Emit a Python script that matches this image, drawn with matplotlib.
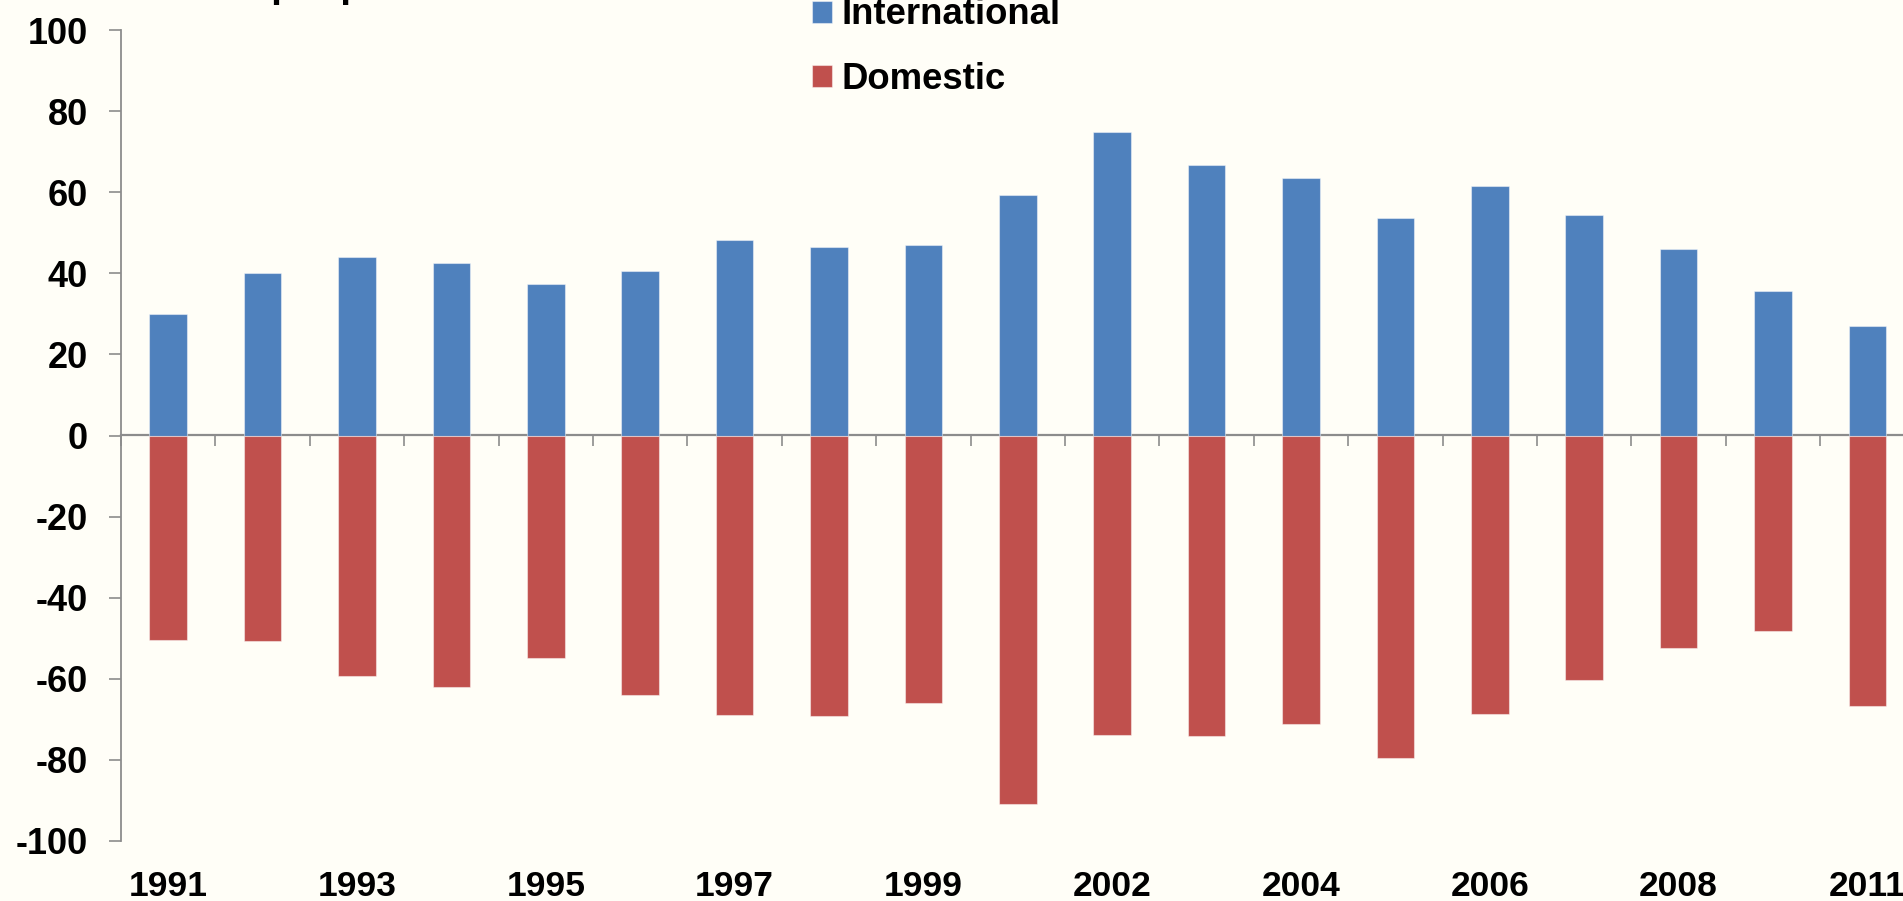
import matplotlib
matplotlib.use("Agg")
import matplotlib.pyplot as plt
import numpy as np

years = ["1991", "1992", "1993", "1994", "1995", "1996", "1997", "1998", "1999",
         "2001", "2002", "2003", "2004", "2005", "2006", "2007", "2008", "2010", "2011"]
international = [30.0, 40.0, 44.0, 42.5, 37.3, 40.6, 48.2, 46.5, 47.1,
                 59.4, 74.8, 66.8, 63.6, 53.7, 61.5, 54.5, 45.9, 35.7, 27.0]
domestic = [-50.5, -50.8, -59.2, -62.1, -54.8, -64.0, -69.0, -69.1, -66.0,
            -90.9, -73.9, -74.1, -71.1, -79.6, -68.8, -60.4, -52.3, -48.3, -66.7]
label_years = years[::2]
yticks = [-100, -80, -60, -40, -20, 0, 20, 40, 60, 80, 100]

BG = "#FFFEF7"
BLUE = "#4F81BD"
RED = "#C0504D"
GRAY = "#8C8C8C"
W, H = 1903, 901

plt.rcParams["font.family"] = ["Liberation Sans", "DejaVu Sans"]
plt.rcParams["font.weight"] = "bold"

fig = plt.figure(figsize=(W / 100, H / 100), dpi=100, facecolor=BG)
n = len(years)
cat_w = 94.4
left_px, top_px, bot_px = 121, 30, 841
ax = fig.add_axes([left_px / W, (H - bot_px) / H, n * cat_w / W, (bot_px - top_px) / H])
ax.set_facecolor(BG)

x = np.arange(n)
b1 = ax.bar(x, international, width=0.4, color=BLUE, edgecolor=(1, 1, 1, 0.45),
            linewidth=0.8, label="International", zorder=2)
b2 = ax.bar(x, domestic, width=0.4, color=RED, edgecolor=(1, 1, 1, 0.45),
            linewidth=0.8, label="Domestic", zorder=2)

ax.set_xlim(-0.5, n - 0.5)
ax.set_ylim(-100, 100)

for s in ["top", "right", "bottom"]:
    ax.spines[s].set_visible(False)
ax.spines["left"].set_color(GRAY)
ax.spines["left"].set_linewidth(1.3)

ax.set_yticks(yticks)
ax.set_yticklabels([str(v) for v in yticks])
ax.tick_params(axis="y", direction="out", length=8.6, width=1.2, color=GRAY,
               pad=15, labelsize=26)

ax.set_xticks(x[::2])
ax.set_xticklabels(label_years)
ax.tick_params(axis="x", length=0, pad=21, labelsize=25.5)

secax = ax.secondary_xaxis(0.5)
secax.set_xticks(np.arange(n + 1) - 0.5)
secax.set_xticklabels([])
secax.xaxis.set_ticks_position("bottom")
secax.tick_params(axis="x", direction="out", length=8, width=1.2, color=GRAY)
secax.spines["bottom"].set_visible(True)
secax.spines["bottom"].set_color(GRAY)
secax.spines["bottom"].set_linewidth(1.6)
secax.spines["top"].set_visible(False)

# title, cropped by the top edge in the reference
fig.text(137 / W, (H + 3) / H, "Million people", fontsize=28, fontweight="bold",
         ha="left", va="baseline")

leg = ax.legend(handles=[b1, b2], loc="upper left",
                bbox_to_anchor=(812 / W, (H + 2.5) / H), bbox_transform=fig.transFigure,
                frameon=False, borderpad=0, borderaxespad=0,
                handlelength=0.55, handleheight=0.55, handletextpad=0.25,
                labelspacing=0.8, fontsize=26.3)
for t in leg.get_texts():
    t.set_fontweight("bold")

fig.savefig("out.png", dpi=100, facecolor=BG)
